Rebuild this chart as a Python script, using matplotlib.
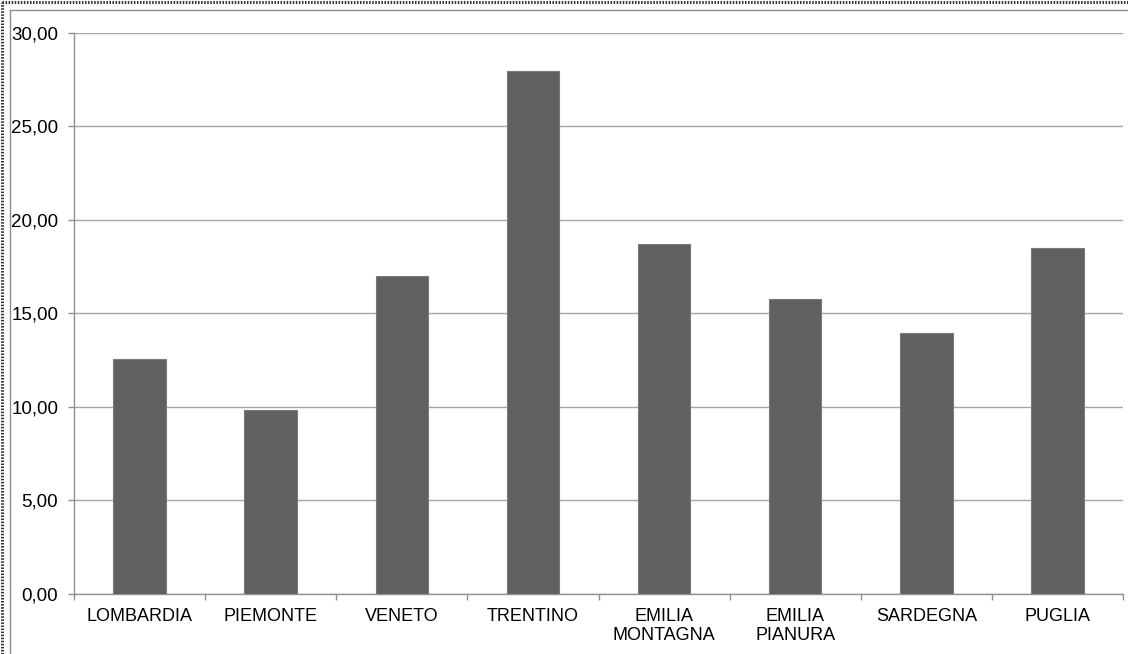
import matplotlib.pyplot as plt
from matplotlib.lines import Line2D
from matplotlib.ticker import FuncFormatter, MultipleLocator
import numpy as np

plt.rcParams['font.family'] = ['Liberation Sans', 'DejaVu Sans']

regions = ['LOMBARDIA', 'PIEMONTE', 'VENETO', 'TRENTINO',
           'EMILIA\nMONTAGNA', 'EMILIA\nPIANURA', 'SARDEGNA', 'PUGLIA']
values = [12.53, 9.81, 17.00, 27.95, 18.70, 15.76, 13.94, 18.47]

W, H = 1128, 654
fig = plt.figure(figsize=(W / 100, H / 100), dpi=100)
ax = fig.add_axes([74 / W, 1 - 593.7 / H, (1123 - 74) / W, (593.7 - 32.7) / H])

x = np.arange(len(regions))
ax.bar(x, values, width=0.4, color='#606060', edgecolor='#7a7a7a', linewidth=0.8, zorder=3)

ax.set_xlim(-0.5, len(regions) - 0.5)
ax.set_ylim(0, 30)
ax.yaxis.set_major_locator(MultipleLocator(5))
ax.yaxis.set_major_formatter(FuncFormatter(lambda v, p: f'{v:.2f}'.replace('.', ',')))
ax.grid(axis='y', color='#a6a6a6', linewidth=1.0, zorder=0)

# category labels centered, ticks on the boundaries
ax.set_xticks(x)
ax.set_xticklabels(regions, fontsize=13, linespacing=1.1)
ax.tick_params(axis='x', length=0, pad=10.5)
ax.set_xticks(np.arange(len(regions) + 1) - 0.5, minor=True)
ax.tick_params(axis='x', which='minor', length=4.3, color='#909090', width=1)
ax.tick_params(axis='y', length=4.3, color='#909090', width=1, labelsize=13.5, pad=7)

for side in ['top', 'right']:
    ax.spines[side].set_visible(False)
for side in ['left', 'bottom']:
    ax.spines[side].set_color('#909090')
    ax.spines[side].set_linewidth(1.0)

# chart frame (inner solid, outer dotted on left and top)
fx, fy = 9.5 / W, 1 - 9.5 / H
fig.add_artist(Line2D([fx, fx], [0, fy], transform=fig.transFigure, color='#8c8c8c', lw=1.0))
fig.add_artist(Line2D([fx, 1], [fy, fy], transform=fig.transFigure, color='#8c8c8c', lw=1.0))
ox, oy = 1.5 / W, 1 - 1.5 / H
fig.add_artist(Line2D([ox, ox], [0, oy], transform=fig.transFigure, color='#333333', lw=2.2,
                      linestyle=(0, (0.5, 0.5))))
fig.add_artist(Line2D([ox, 1], [oy, oy], transform=fig.transFigure, color='#333333', lw=2.2,
                      linestyle=(0, (0.5, 0.5))))

fig.savefig('out.png', dpi=100)
